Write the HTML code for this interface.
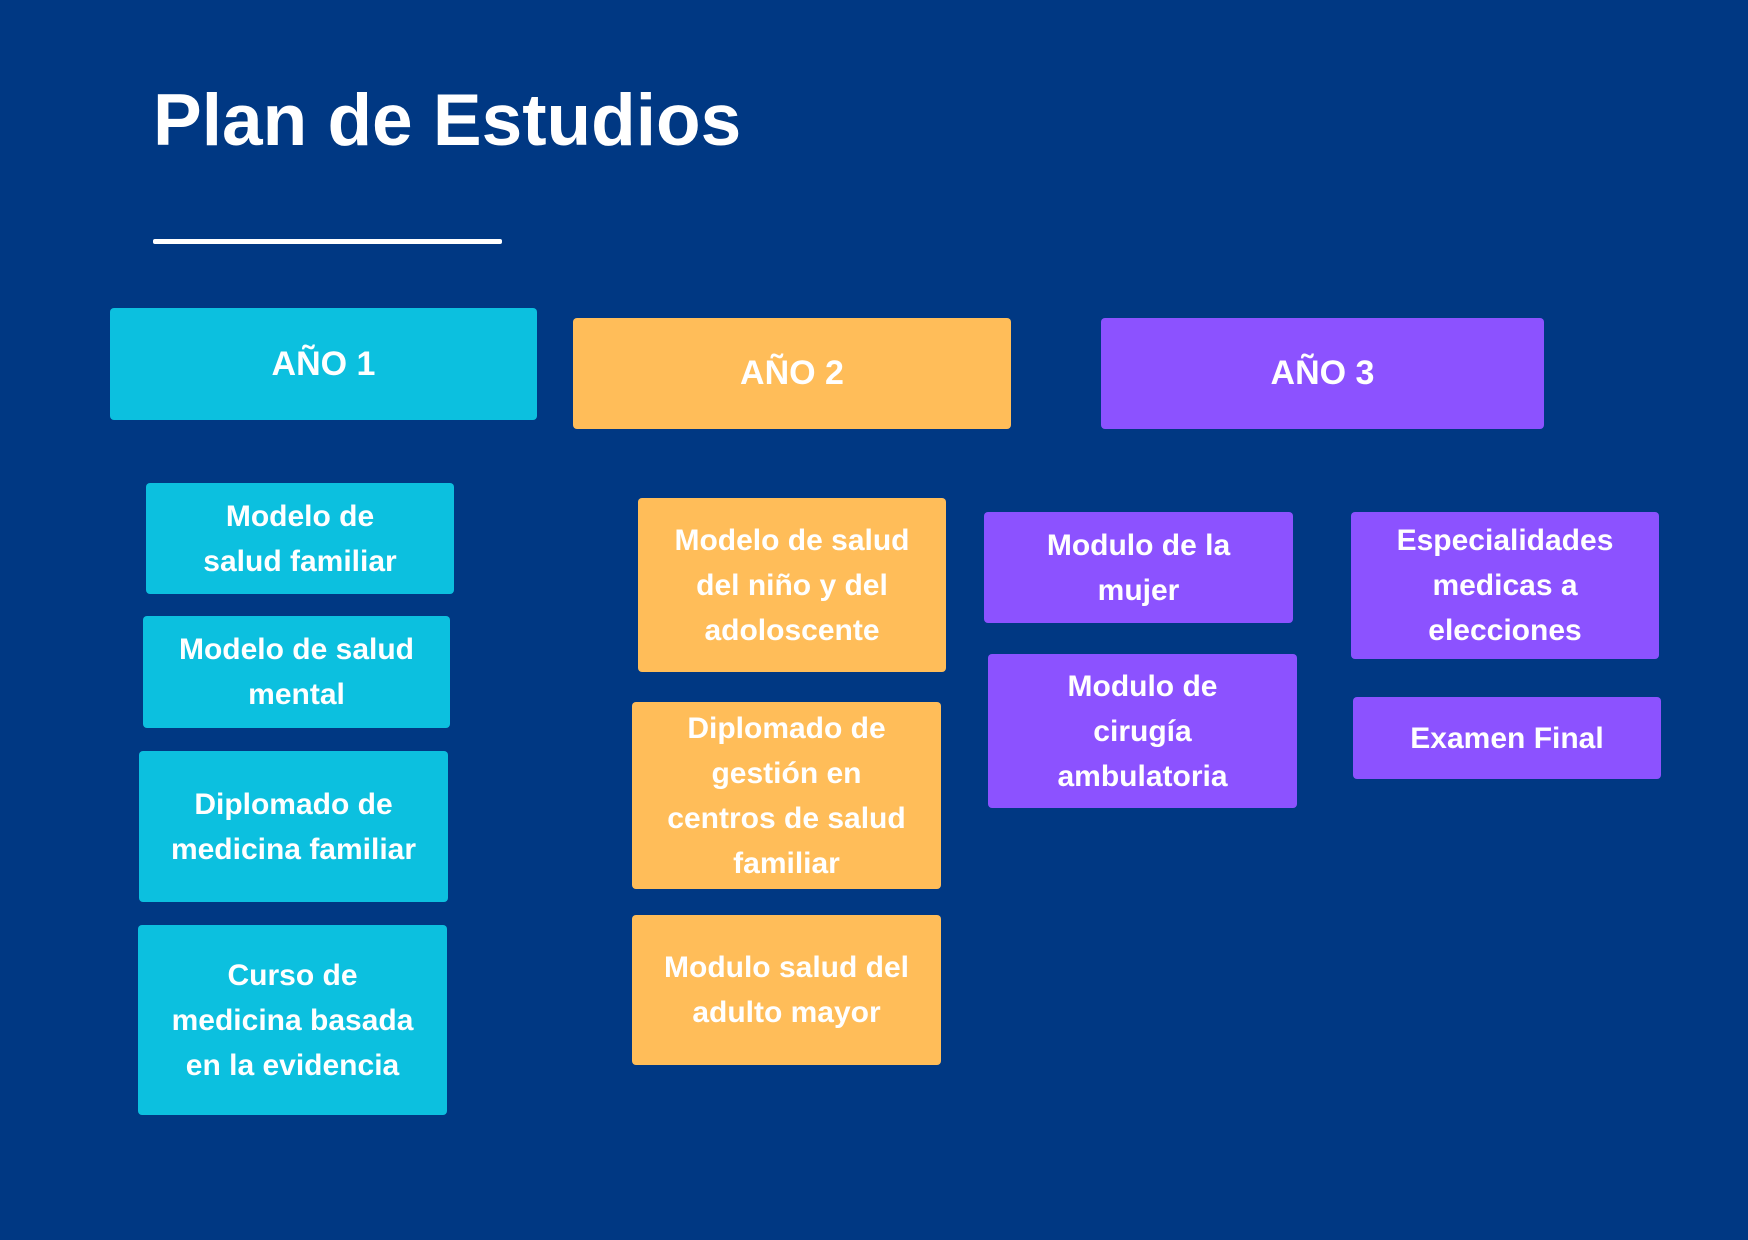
<!DOCTYPE html>
<html><head><meta charset="utf-8"><style>
body{margin:0;width:1748px;height:1240px;background:#003883;overflow:hidden;position:relative;font-family:"Liberation Sans",sans-serif;font-weight:bold;color:#fff}
.t{position:absolute;left:153px;top:79px;font-size:73px;letter-spacing:0px}
.ln{position:absolute;left:153px;top:239px;width:349px;height:5px;background:#fff;border-radius:2px}
.b{position:absolute;display:flex;align-items:center;justify-content:center;text-align:center;border-radius:4px;font-size:30px;line-height:45px}
.h{font-size:34px}
.c{background:#0cc0df}.o{background:#ffbd59}.p{background:#8c52ff}
</style></head><body>
<div class="t">Plan de Estudios</div>
<div class="ln"></div>
<div class="b c h" style="left:110px;top:308px;width:427px;height:112px">AÑO 1</div>
<div class="b o h" style="left:573px;top:318px;width:438px;height:111px">AÑO 2</div>
<div class="b p h" style="left:1101px;top:318px;width:443px;height:111px">AÑO 3</div>

<div class="b c" style="left:146px;top:483px;width:308px;height:111px">Modelo de<br>salud familiar</div>
<div class="b c" style="left:143px;top:616px;width:307px;height:112px">Modelo de salud<br>mental</div>
<div class="b c" style="left:139px;top:751px;width:309px;height:151px">Diplomado de<br>medicina familiar</div>
<div class="b c" style="left:138px;top:925px;width:309px;height:190px">Curso de<br>medicina basada<br>en la evidencia</div>

<div class="b o" style="left:638px;top:498px;width:308px;height:174px">Modelo de salud<br>del niño y del<br>adoloscente</div>
<div class="b o" style="left:632px;top:702px;width:309px;height:187px">Diplomado de<br>gestión en<br>centros de salud<br>familiar</div>
<div class="b o" style="left:632px;top:915px;width:309px;height:150px">Modulo salud del<br>adulto mayor</div>

<div class="b p" style="left:984px;top:512px;width:309px;height:111px">Modulo de la<br>mujer</div>
<div class="b p" style="left:988px;top:654px;width:309px;height:154px">Modulo de<br>cirugía<br>ambulatoria</div>
<div class="b p" style="left:1351px;top:512px;width:308px;height:147px">Especialidades<br>medicas a<br>elecciones</div>
<div class="b p" style="left:1353px;top:697px;width:308px;height:82px">Examen Final</div>
</body></html>
